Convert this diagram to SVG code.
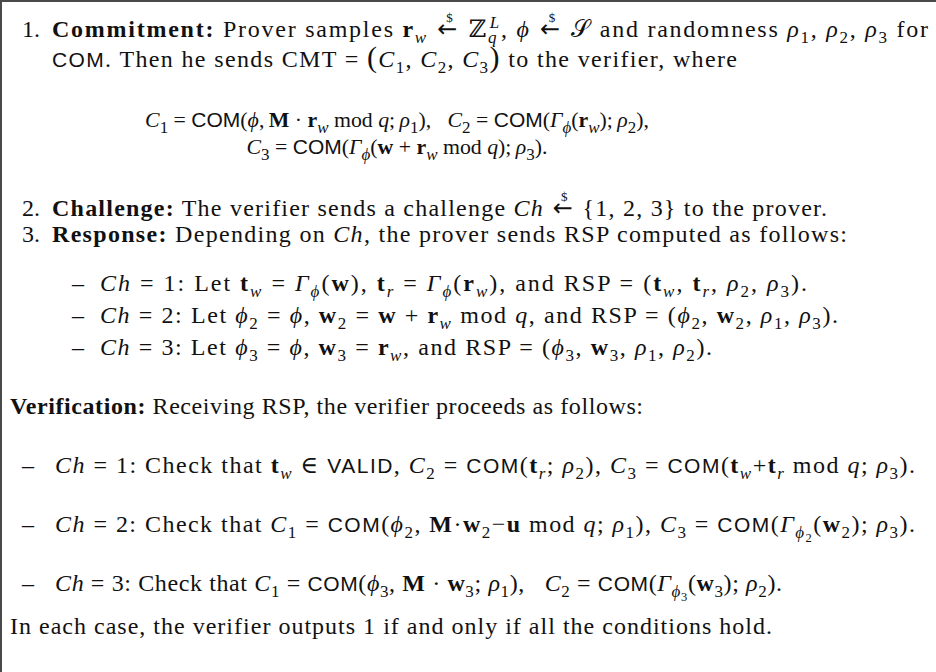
<svg xmlns="http://www.w3.org/2000/svg" width="936" height="672" viewBox="0 0 936 672">
<style>
text { font-family: "Liberation Serif", "DejaVu Serif", serif; font-size: 24px; fill: #111; }
.eq { font-size: 21.8px; }
.b { font-weight: bold; }
.i { font-style: italic; }
.s { font-family: "Liberation Sans", "DejaVu Sans", sans-serif; font-size: 21px; }
.sb { font-size: 17px; }
.ss { font-size: 12.5px; }
.ds { font-size: 13px; }
.ar { font-family: "DejaVu Sans", sans-serif; }
.bp { font-size: 30px; }
.frame { fill: none; stroke: #4a4a4a; stroke-width: 2; }
</style>
<rect width="936" height="672" fill="#fff"/>
<path class="frame" d="M1,672 V1 H936"/>

<g id="commitment">
<text x="22" y="37">1.</text>
<text x="52" y="37" textLength="876" lengthAdjust="spacing"><tspan class="b">Commitment:</tspan> Prover samples <tspan class="b">r</tspan><tspan class="sb i" dy="6">w</tspan><tspan class="ar" dy="-6"> ←</tspan><tspan class="ds" dx="-13" dy="-15">$</tspan><tspan dx="6.5" dy="15"> ℤ</tspan><tspan class="sb i" dy="6">q</tspan><tspan class="sb i" dx="-8.5" dy="-15">L</tspan><tspan dy="9">, </tspan><tspan class="i">ϕ</tspan><tspan class="ar"> ←</tspan><tspan class="ds" dx="-13" dy="-15">$</tspan><tspan dx="6.5" dy="15"> 𝒮 and randomness </tspan><tspan class="i">ρ</tspan><tspan class="sb" dy="6">1</tspan><tspan dy="-6">, </tspan><tspan class="i">ρ</tspan><tspan class="sb" dy="6">2</tspan><tspan dy="-6">, </tspan><tspan class="i">ρ</tspan><tspan class="sb" dy="6">3</tspan><tspan dy="-6"> for</tspan></text>
<text x="52" y="67" textLength="685" lengthAdjust="spacing"><tspan class="s">COM</tspan>. Then he sends CMT = <tspan class="bp">(</tspan><tspan class="i">C</tspan><tspan class="sb" dy="6">1</tspan><tspan dy="-6">, </tspan><tspan class="i">C</tspan><tspan class="sb" dy="6">2</tspan><tspan dy="-6">, </tspan><tspan class="i">C</tspan><tspan class="sb" dy="6">3</tspan><tspan class="bp" dy="-6">)</tspan> to the verifier, where</text>
<text class="eq" x="397" y="127" text-anchor="middle"><tspan class="i">C</tspan><tspan class="sb" dy="6">1</tspan><tspan dy="-6"> = </tspan><tspan class="s">COM</tspan>(<tspan class="i">ϕ</tspan>,&#8201;<tspan class="b">M</tspan> · <tspan class="b">r</tspan><tspan class="sb i" dy="6">w</tspan><tspan dy="-6"> mod </tspan><tspan class="i">q</tspan>;&#8201;<tspan class="i">ρ</tspan><tspan class="sb" dy="6">1</tspan><tspan dy="-6">),&#160;&#160; </tspan><tspan class="i">C</tspan><tspan class="sb" dy="6">2</tspan><tspan dy="-6"> = </tspan><tspan class="s">COM</tspan>(<tspan class="i">Γ</tspan><tspan class="sb i" dy="6">ϕ</tspan><tspan dy="-6">(</tspan><tspan class="b">r</tspan><tspan class="sb i" dy="6">w</tspan><tspan dy="-6">);&#8201;</tspan><tspan class="i">ρ</tspan><tspan class="sb" dy="6">2</tspan><tspan dy="-6">),</tspan></text>
<text class="eq" x="397" y="154" text-anchor="middle"><tspan class="i">C</tspan><tspan class="sb" dy="6">3</tspan><tspan dy="-6"> = </tspan><tspan class="s">COM</tspan>(<tspan class="i">Γ</tspan><tspan class="sb i" dy="6">ϕ</tspan><tspan dy="-6">(</tspan><tspan class="b">w</tspan> + <tspan class="b">r</tspan><tspan class="sb i" dy="6">w</tspan><tspan dy="-6"> mod </tspan><tspan class="i">q</tspan>);&#8201;<tspan class="i">ρ</tspan><tspan class="sb" dy="6">3</tspan><tspan dy="-6">).</tspan></text>
</g>

<g id="challenge">
<text x="22" y="216">2.</text>
<text x="52" y="216" textLength="775" lengthAdjust="spacing"><tspan class="b">Challenge:</tspan> The verifier sends a challenge <tspan class="i">Ch</tspan><tspan class="ar"> ←</tspan><tspan class="ds" dx="-13" dy="-15">$</tspan><tspan dx="6.5" dy="15"> {1, 2, 3} to the prover.</tspan></text>
</g>

<g id="response">
<text x="22" y="242">3.</text>
<text x="52" y="242" textLength="795" lengthAdjust="spacing"><tspan class="b">Response:</tspan> Depending on <tspan class="i">Ch</tspan>, the prover sends RSP computed as follows:</text>
<text x="72" y="291">–</text>
<text x="100" y="291" textLength="707" lengthAdjust="spacing"><tspan class="i">Ch</tspan> = 1: Let <tspan class="b">t</tspan><tspan class="sb i" dy="6">w</tspan><tspan dy="-6"> = </tspan><tspan class="i">Γ</tspan><tspan class="sb i" dy="6">ϕ</tspan><tspan dy="-6">(</tspan><tspan class="b">w</tspan>), <tspan class="b">t</tspan><tspan class="sb i" dy="6">r</tspan><tspan dy="-6"> = </tspan><tspan class="i">Γ</tspan><tspan class="sb i" dy="6">ϕ</tspan><tspan dy="-6">(</tspan><tspan class="b">r</tspan><tspan class="sb i" dy="6">w</tspan><tspan dy="-6">), and RSP = (</tspan><tspan class="b">t</tspan><tspan class="sb i" dy="6">w</tspan><tspan dy="-6">, </tspan><tspan class="b">t</tspan><tspan class="sb i" dy="6">r</tspan><tspan dy="-6">, </tspan><tspan class="i">ρ</tspan><tspan class="sb" dy="6">2</tspan><tspan dy="-6">, </tspan><tspan class="i">ρ</tspan><tspan class="sb" dy="6">3</tspan><tspan dy="-6">).</tspan></text>
<text x="72" y="323">–</text>
<text x="100" y="323" textLength="738" lengthAdjust="spacing"><tspan class="i">Ch</tspan> = 2: Let <tspan class="i">ϕ</tspan><tspan class="sb" dy="6">2</tspan><tspan dy="-6"> = </tspan><tspan class="i">ϕ</tspan>, <tspan class="b">w</tspan><tspan class="sb" dy="6">2</tspan><tspan dy="-6"> = </tspan><tspan class="b">w</tspan> + <tspan class="b">r</tspan><tspan class="sb i" dy="6">w</tspan><tspan dy="-6"> mod </tspan><tspan class="i">q</tspan>, and RSP = (<tspan class="i">ϕ</tspan><tspan class="sb" dy="6">2</tspan><tspan dy="-6">, </tspan><tspan class="b">w</tspan><tspan class="sb" dy="6">2</tspan><tspan dy="-6">, </tspan><tspan class="i">ρ</tspan><tspan class="sb" dy="6">1</tspan><tspan dy="-6">, </tspan><tspan class="i">ρ</tspan><tspan class="sb" dy="6">3</tspan><tspan dy="-6">).</tspan></text>
<text x="72" y="355">–</text>
<text x="100" y="355" textLength="612" lengthAdjust="spacing"><tspan class="i">Ch</tspan> = 3: Let <tspan class="i">ϕ</tspan><tspan class="sb" dy="6">3</tspan><tspan dy="-6"> = </tspan><tspan class="i">ϕ</tspan>, <tspan class="b">w</tspan><tspan class="sb" dy="6">3</tspan><tspan dy="-6"> = </tspan><tspan class="b">r</tspan><tspan class="sb i" dy="6">w</tspan><tspan dy="-6">, and RSP = (</tspan><tspan class="i">ϕ</tspan><tspan class="sb" dy="6">3</tspan><tspan dy="-6">, </tspan><tspan class="b">w</tspan><tspan class="sb" dy="6">3</tspan><tspan dy="-6">, </tspan><tspan class="i">ρ</tspan><tspan class="sb" dy="6">1</tspan><tspan dy="-6">, </tspan><tspan class="i">ρ</tspan><tspan class="sb" dy="6">2</tspan><tspan dy="-6">).</tspan></text>
</g>

<g id="verification">
<text x="10" y="414" textLength="633" lengthAdjust="spacing"><tspan class="b">Verification:</tspan> Receiving RSP, the verifier proceeds as follows:</text>
<text x="22" y="473">–</text>
<text x="55" y="473" textLength="860" lengthAdjust="spacing"><tspan class="i">Ch</tspan> = 1: Check that <tspan class="b">t</tspan><tspan class="sb i" dy="6">w</tspan><tspan dy="-6"> ∈ </tspan><tspan class="s">VALID</tspan>, <tspan class="i">C</tspan><tspan class="sb" dy="6">2</tspan><tspan dy="-6"> = </tspan><tspan class="s">COM</tspan>(<tspan class="b">t</tspan><tspan class="sb i" dy="6">r</tspan><tspan dy="-6">; </tspan><tspan class="i">ρ</tspan><tspan class="sb" dy="6">2</tspan><tspan dy="-6">), </tspan><tspan class="i">C</tspan><tspan class="sb" dy="6">3</tspan><tspan dy="-6"> = </tspan><tspan class="s">COM</tspan>(<tspan class="b">t</tspan><tspan class="sb i" dy="6">w</tspan><tspan dy="-6">+</tspan><tspan class="b">t</tspan><tspan class="sb i" dy="6">r</tspan><tspan dy="-6"> mod </tspan><tspan class="i">q</tspan>; <tspan class="i">ρ</tspan><tspan class="sb" dy="6">3</tspan><tspan dy="-6">).</tspan></text>
<text x="22" y="532">–</text>
<text x="55" y="532" textLength="860" lengthAdjust="spacing"><tspan class="i">Ch</tspan> = 2: Check that <tspan class="i">C</tspan><tspan class="sb" dy="6">1</tspan><tspan dy="-6"> = </tspan><tspan class="s">COM</tspan>(<tspan class="i">ϕ</tspan><tspan class="sb" dy="6">2</tspan><tspan dy="-6">, </tspan><tspan class="b">M</tspan>·<tspan class="b">w</tspan><tspan class="sb" dy="6">2</tspan><tspan dy="-6">−</tspan><tspan class="b">u</tspan> mod <tspan class="i">q</tspan>; <tspan class="i">ρ</tspan><tspan class="sb" dy="6">1</tspan><tspan dy="-6">), </tspan><tspan class="i">C</tspan><tspan class="sb" dy="6">3</tspan><tspan dy="-6"> = </tspan><tspan class="s">COM</tspan>(<tspan class="i">Γ</tspan><tspan class="sb i" dy="6">ϕ</tspan><tspan class="ss" dy="3.5">2</tspan><tspan dy="-9.5">(</tspan><tspan class="b">w</tspan><tspan class="sb" dy="6">2</tspan><tspan dy="-6">); </tspan><tspan class="i">ρ</tspan><tspan class="sb" dy="6">3</tspan><tspan dy="-6">).</tspan></text>
<text x="22" y="591">–</text>
<text x="55" y="591" textLength="727" lengthAdjust="spacing"><tspan class="i">Ch</tspan> = 3: Check that <tspan class="i">C</tspan><tspan class="sb" dy="6">1</tspan><tspan dy="-6"> = </tspan><tspan class="s">COM</tspan>(<tspan class="i">ϕ</tspan><tspan class="sb" dy="6">3</tspan><tspan dy="-6">, </tspan><tspan class="b">M</tspan> · <tspan class="b">w</tspan><tspan class="sb" dy="6">3</tspan><tspan dy="-6">; </tspan><tspan class="i">ρ</tspan><tspan class="sb" dy="6">1</tspan><tspan dy="-6">),&#160;&#160; </tspan><tspan class="i">C</tspan><tspan class="sb" dy="6">2</tspan><tspan dy="-6"> = </tspan><tspan class="s">COM</tspan>(<tspan class="i">Γ</tspan><tspan class="sb i" dy="6">ϕ</tspan><tspan class="ss" dy="3.5">3</tspan><tspan dy="-9.5">(</tspan><tspan class="b">w</tspan><tspan class="sb" dy="6">3</tspan><tspan dy="-6">); </tspan><tspan class="i">ρ</tspan><tspan class="sb" dy="6">2</tspan><tspan dy="-6">).</tspan></text>
<text x="10" y="634" textLength="762" lengthAdjust="spacing">In each case, the verifier outputs 1 if and only if all the conditions hold.</text>
</g>
</svg>
